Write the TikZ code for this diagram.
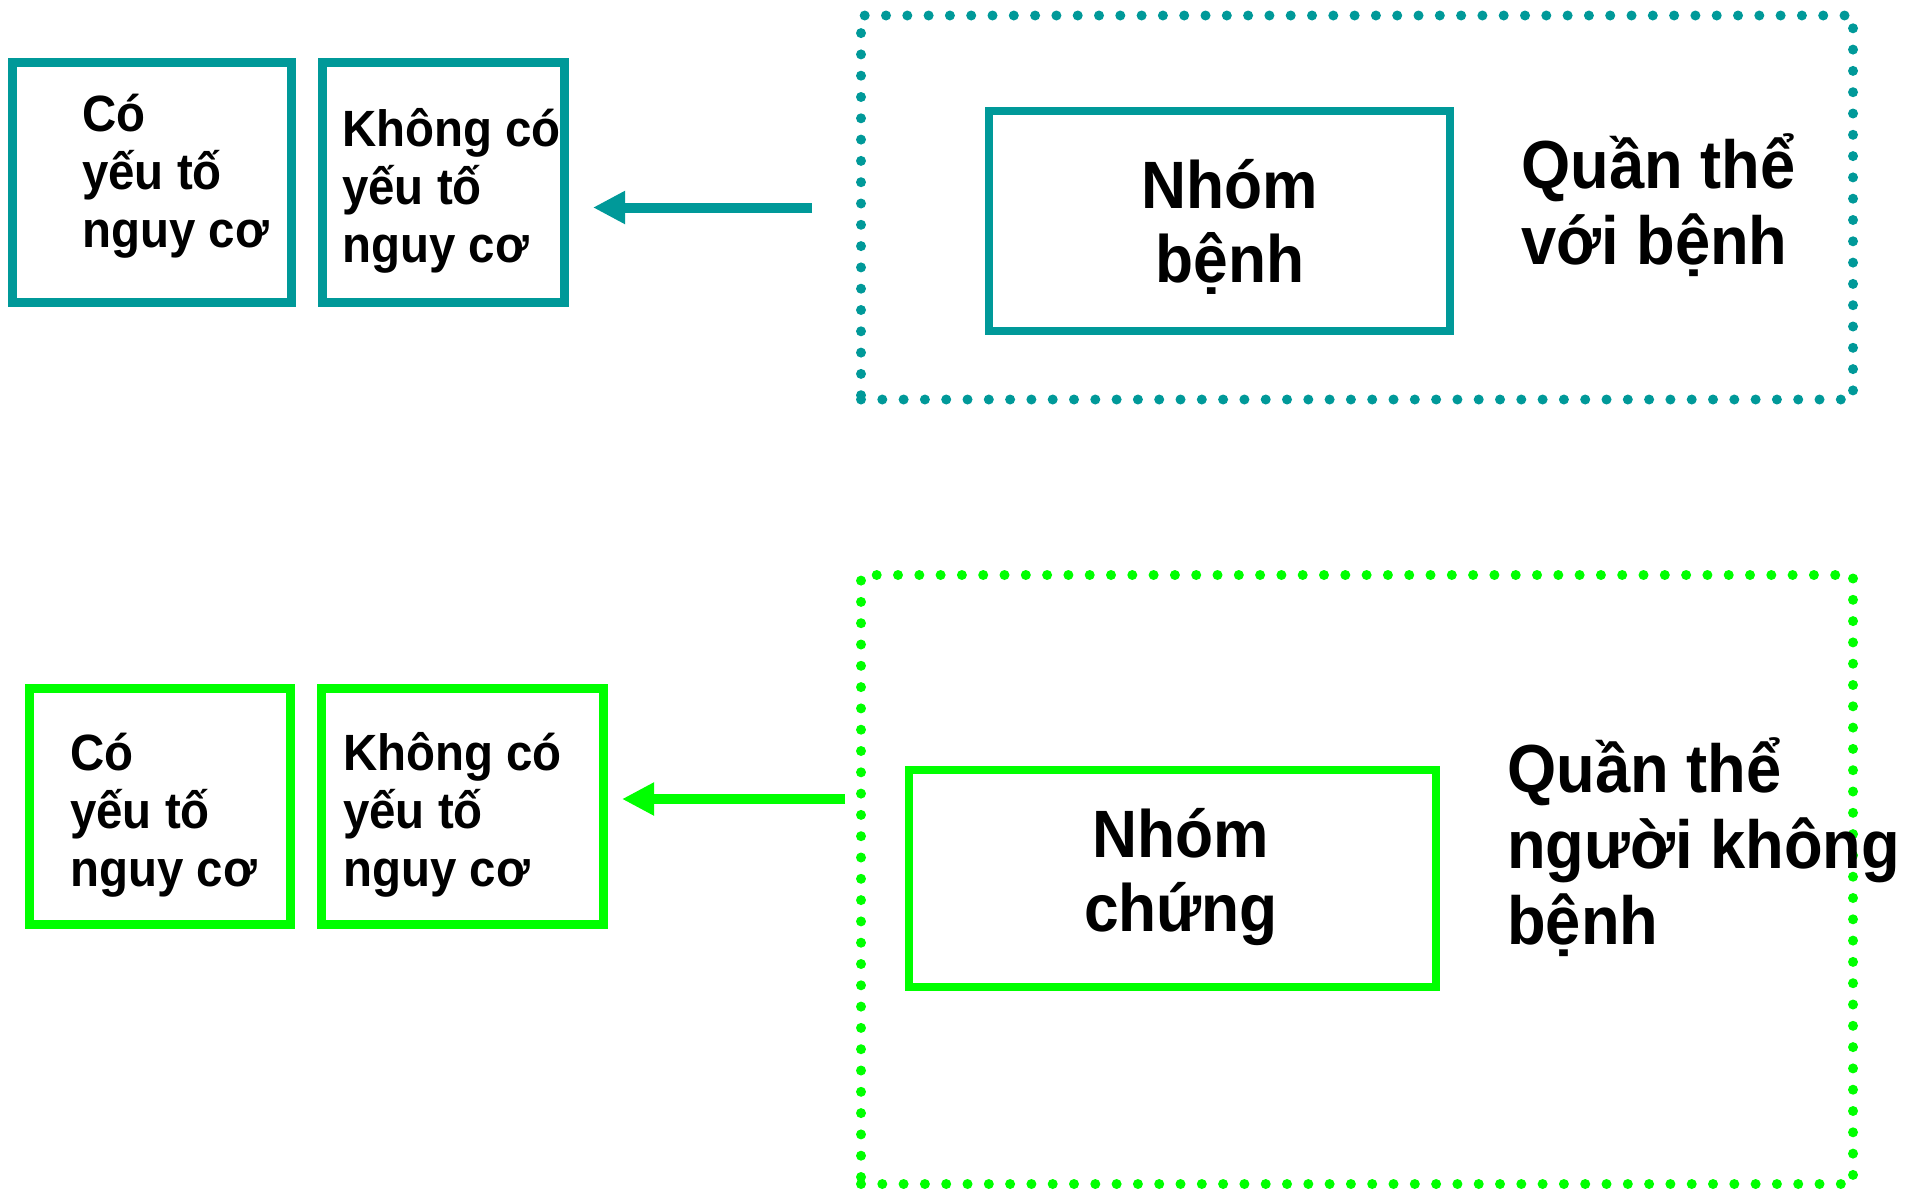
\documentclass[tikz,border=0pt]{standalone}
\usepackage{fontspec}
\setmainfont{Liberation Sans}
\newfontfamily\boxfont[FakeStretch=0.93]{Liberation Sans Bold}
\usetikzlibrary{arrows.meta}
\definecolor{tealc}{RGB}{0,153,153}
\definecolor{greenc}{RGB}{0,255,0}
\tikzset{
  riskbox/.style={draw=#1, line width=9pt, rectangle, inner sep=0pt},
  groupbox/.style={draw=#1, line width=8pt, rectangle, inner sep=0pt},
  popbox/.style={draw=#1, line width=10pt, line cap=round, dash pattern=on 0pt off 21.3pt, rectangle, inner sep=0pt},
  % multi-line texts are placed by the baseline of their last line
  smalltxt/.style={anchor=base west, align=left, inner sep=0pt, font=\boxfont\fontsize{51}{58}\selectfont},
  bigtxt/.style={anchor=base, align=center, inner sep=0pt, font=\boxfont\fontsize{67}{74}\selectfont},
  poptxt/.style={anchor=base west, align=left, inner sep=0pt, font=\boxfont\fontsize{68}{76}\selectfont},
  arr/.style={draw=#1, line width=10pt, -{Triangle[length=32pt, width=31pt]}}
}
\begin{document}
\begin{tikzpicture}[x=1pt, y=-1pt]
\useasboundingbox (0,0) rectangle (1910,1191);

% upper row: diseased population
\node[popbox=tealc, minimum width=992pt, minimum height=384pt] (pop1) at (1357,207.5) {};
\node[groupbox=tealc, minimum width=461pt, minimum height=220pt] (case) at (1219.5,221) {};
\node[bigtxt] (caset) at (1230,282) {Nhóm\\bệnh};
\node[poptxt] (pop1t) at (1521,264) {Quần thể\\với bệnh};
\node[riskbox=tealc, minimum width=278.5pt, minimum height=240pt] (r1) at (151.75,182.5) {};
\node[riskbox=tealc, minimum width=242pt, minimum height=240pt] (r2) at (443.5,182.5) {};
\node[smalltxt] (r1t) at (82,247) {Có\\yếu tố\\nguy cơ};
\node[smalltxt] (r2t) at (342,262) {Không có\\yếu tố\\nguy cơ};
\draw[arr=tealc, shorten <=44pt, shorten >=24pt] (pop1.west) -- (pop1.west -| r2.east);

% lower row: population without the disease
\node[popbox=greenc, minimum width=992pt, minimum height=609pt] (pop2) at (1357,879.5) {};
\node[groupbox=greenc, minimum width=527pt, minimum height=217pt] (ctrl) at (1172.5,878.5) {};
\node[bigtxt] (ctrlt) at (1181,931) {Nhóm\\chứng};
\node[poptxt] (pop2t) at (1507,944) {Quần thể\\người không\\bệnh};
\node[riskbox=greenc, minimum width=261pt, minimum height=236pt] (r3) at (160,806.5) {};
\node[riskbox=greenc, minimum width=282pt, minimum height=236pt] (r4) at (462.5,806.5) {};
\node[smalltxt] (r3t) at (70,886) {Có\\yếu tố\\nguy cơ};
\node[smalltxt] (r4t) at (343,886) {Không có\\yếu tố\\nguy cơ};
\coordinate (g0) at ([yshift=7.5pt]r4.east);
\draw[arr=greenc, shorten <=11pt, shorten >=14pt] (g0 -| pop2.west) -- (g0);
\end{tikzpicture}
\end{document}
